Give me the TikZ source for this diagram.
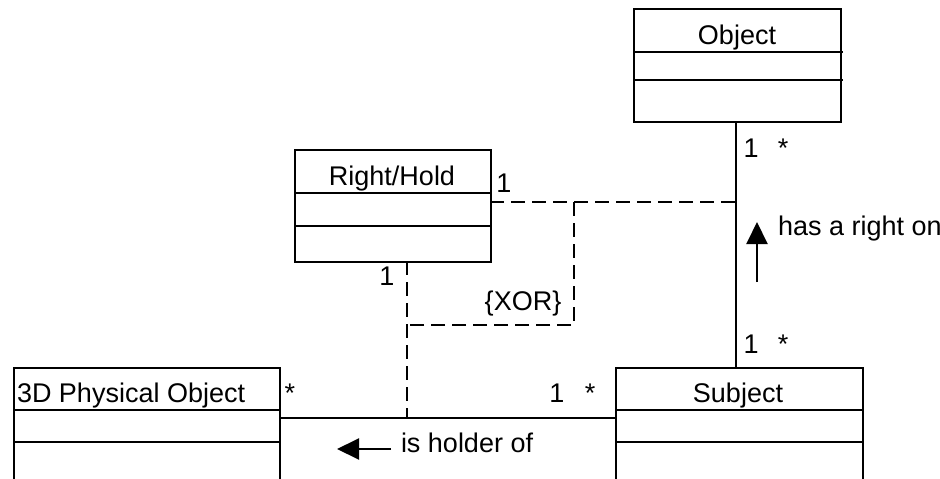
\documentclass[tikz,border=0pt]{standalone}
\usepackage{fontspec}
\setmainfont{Liberation Sans}
\usetikzlibrary{arrows.meta}
\begin{document}
\begin{tikzpicture}[x=1pt,y=-1pt,line width=2pt,
  cls/.style={draw,rectangle,anchor=north west,inner sep=0pt},
  lbl/.style={anchor=base,inner sep=0pt,font=\fontsize{27}{31}\selectfont},
  lbll/.style={anchor=base west,inner sep=0pt,font=\fontsize{27}{31}\selectfont},
  dsh/.style={dash pattern=on 14pt off 7pt},
  tri/.style={-{Triangle[length=22pt,width=21pt]}}]
\useasboundingbox (0,0) rectangle (940,479);
\clip (0,0) rectangle (940,479);
% classes
\node[cls,minimum width=207pt,minimum height=113pt] (obj) at (633,8) {};
\node[cls,minimum width=196pt,minimum height=112pt] (rh) at (294,149) {};
\node[cls,minimum width=266pt,minimum height=140pt] (phys) at (13,367) {};
\node[cls,minimum width=247pt,minimum height=140pt] (subj) at (615,367) {};
% compartments
\draw (obj.west |- 0,52) -- (843,52);
\draw (obj.west |- 0,80) -- (843,80);
\draw (rh.west |- 0,193) -- (rh.east |- 0,193);
\draw (rh.west |- 0,226) -- (rh.east |- 0,226);
\draw (phys.west |- 0,410) -- (phys.east |- 0,410);
\draw (phys.west |- 0,442) -- (phys.east |- 0,442);
\draw (subj.west |- 0,410) -- (subj.east |- 0,410);
\draw (subj.west |- 0,442) -- (subj.east |- 0,442);
% titles
\node[lbl] (objt) at (737,44) {Object};
\node[lbl] (rht) at (392,185) {Right/Hold};
\node[lbll] (physt) at (16,402) {3D Physical Object};
\node[lbl] (subjt) at (738,402) {Subject};
% associations
\coordinate (ov) at (736,121);
\draw (ov) -- (ov |- subj.north);
\coordinate (hv) at (0,418);
\draw (phys.east |- hv) -- (subj.west |- hv);
\coordinate (rhb) at (407,261);
\coordinate (rhh) at (407,418);
\draw[dsh] (rhb) -- (rhh);
\coordinate (rhr) at (490,202);
\coordinate (rho) at (736,202);
\draw[dsh] (rhr) -- (rho);
\coordinate (x1) at (574,202);
\coordinate (x2) at (574,325);
\coordinate (x3) at (407,325);
\draw[dsh] (x1) -- (x2) -- (x3);
% multiplicities
\node[lbl] (m1) at (504,192) {1};
\node[lbl] (m2) at (387,285) {1};
\node[lbl] (m3) at (751,157) {1};
\node[lbl] (m4) at (783,157) {*};
\node[lbl] (m5) at (751,353) {1};
\node[lbl] (m6) at (783,353) {*};
\node[lbl] (m7) at (290,402) {*};
\node[lbl] (m8) at (557,402) {1};
\node[lbl] (m9) at (590,402) {*};
\node[lbl] (xor) at (523,310) {\{XOR\}};
% role labels
\coordinate (a1s) at (757,282);
\coordinate (a1e) at (757,222);
\draw[tri] (a1s) -- (a1e);
\node[lbll] (hr) at (777,235) {has a right on};
\coordinate (a2s) at (391,449);
\coordinate (a2e) at (337,449);
\draw[tri] (a2s) -- (a2e);
\node[lbll] (ho) at (400,452) {is holder of};
\end{tikzpicture}
\end{document}
